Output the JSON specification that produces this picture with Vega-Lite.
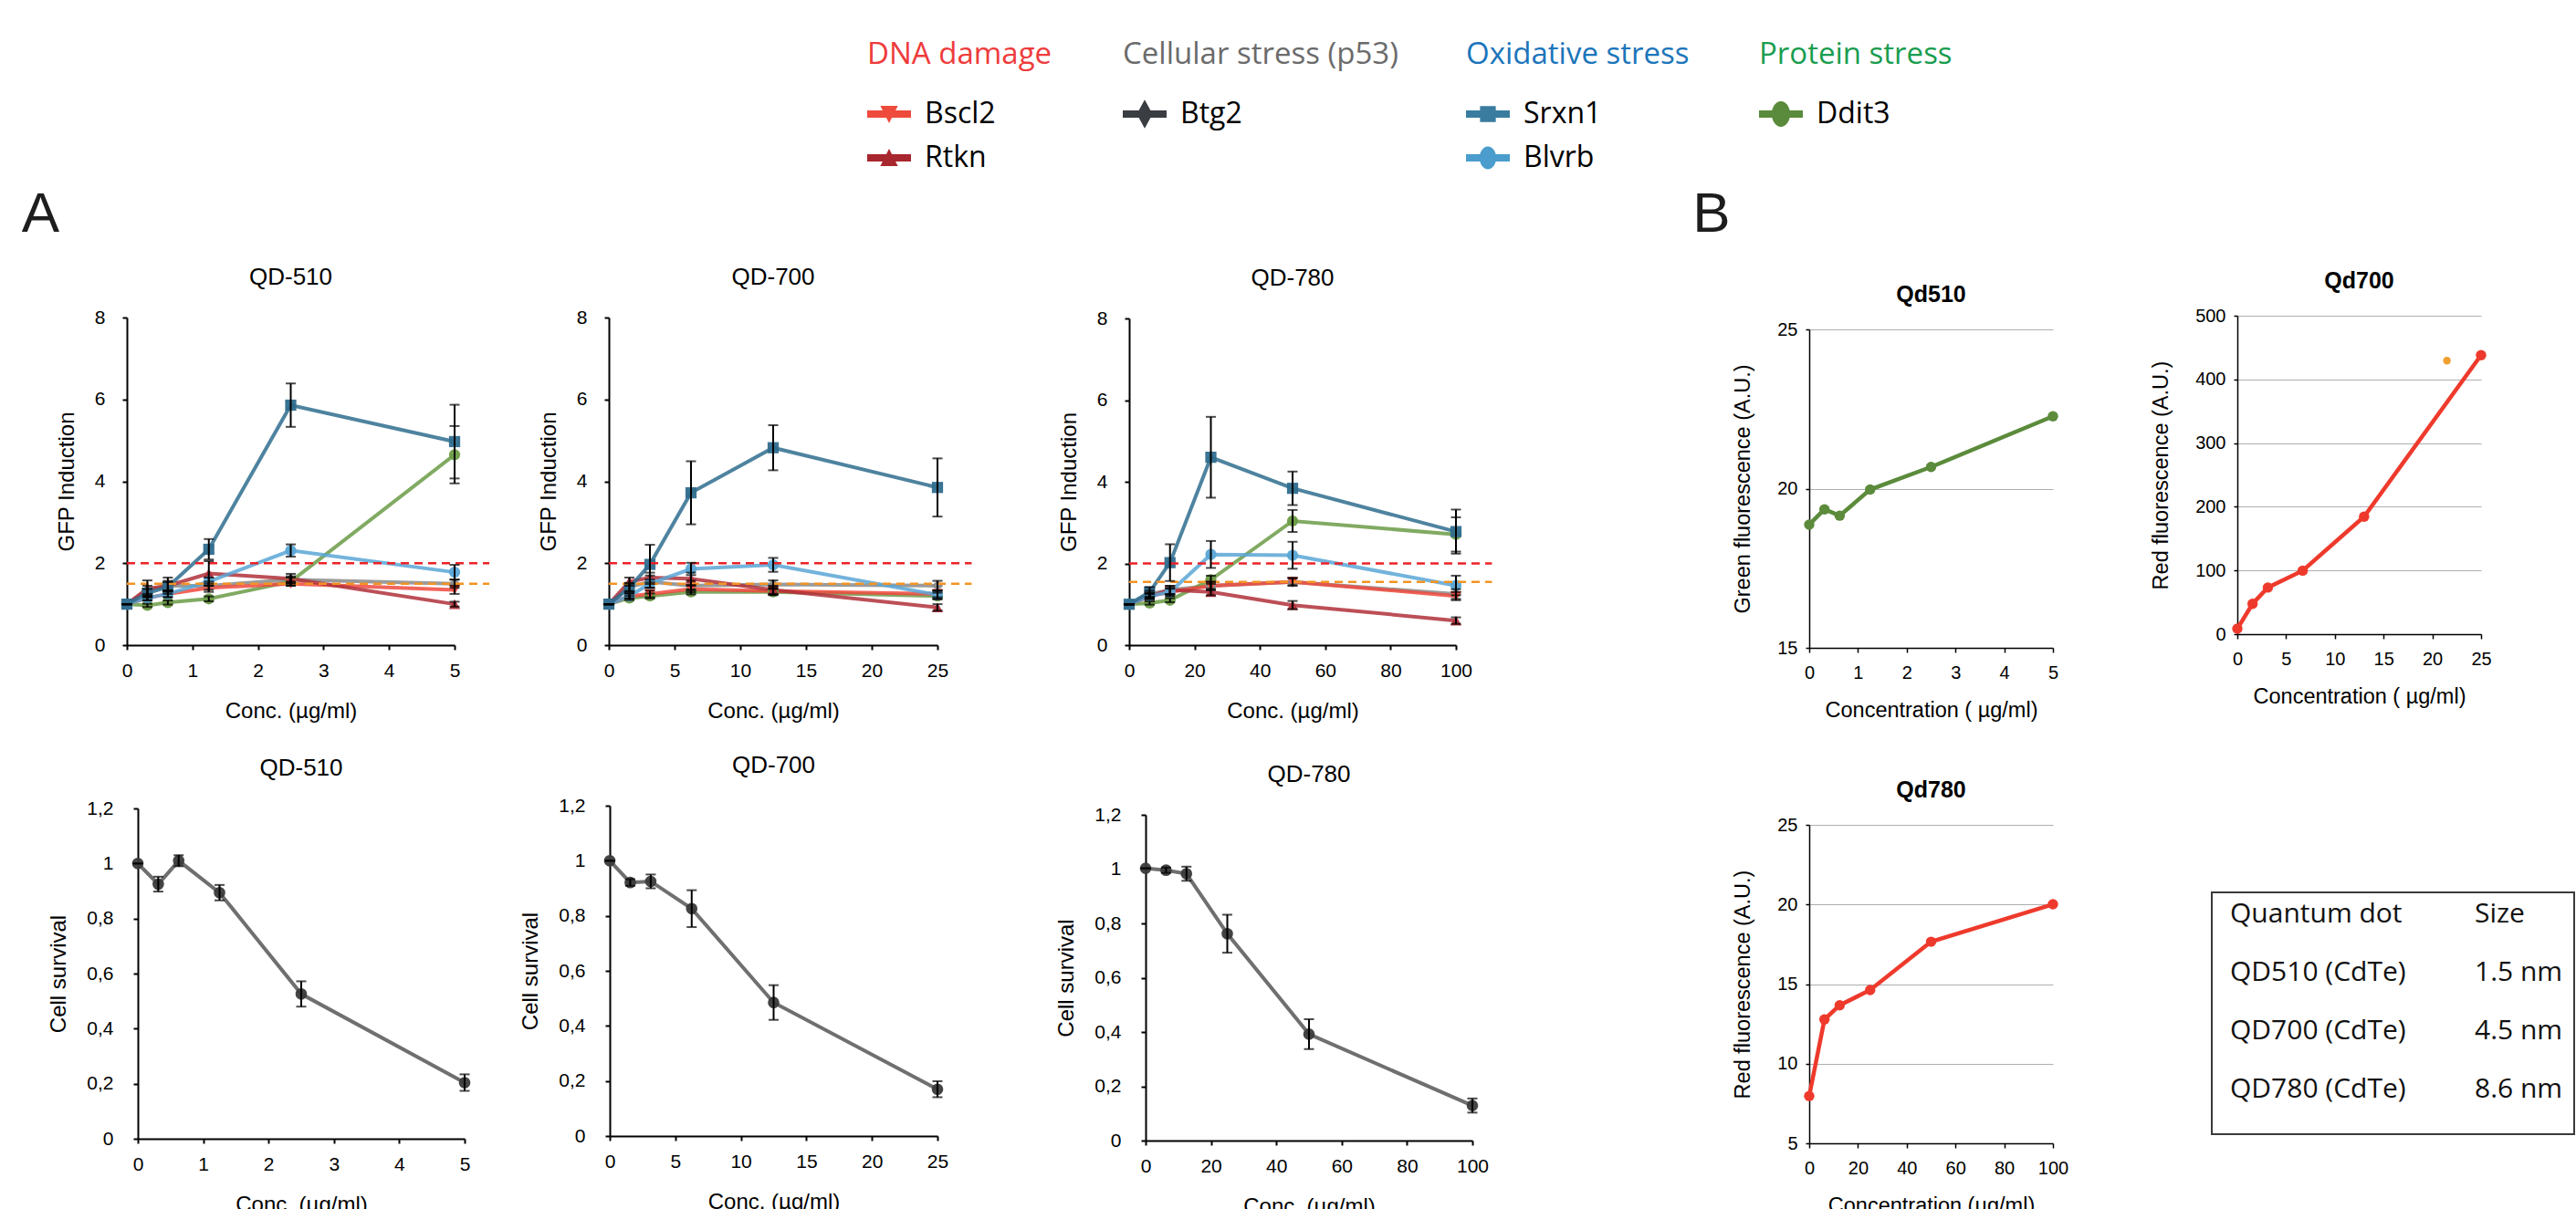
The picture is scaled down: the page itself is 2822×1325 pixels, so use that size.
{
"$schema": "https://vega.github.io/schema/vega-lite/v6.json",
"padding": 0,
"background": "white",
"spacing": 0,
"bounds": "flush",
"config": {
 "view": {"stroke": null},
 "concat": {"spacing": 0},
 "font": "Liberation Sans",
 "title": {"font": "Liberation Sans", "fontSize": 26, "fontWeight": "normal", "color": "black", "baseline": "bottom", "offset": 20, "frame": "group", "anchor": "middle"},
 "axis": {"domainColor": "black", "domainWidth": 2, "tickColor": "black", "tickWidth": 2, "tickSize": 5, "labelColor": "black", "labelFont": "Liberation Sans", "labelFontSize": 21, "titleColor": "black", "titleFont": "Liberation Sans", "titleFontSize": 24, "titleFontWeight": "normal", "grid": false, "format": "d"},
 "axisX": {"labelPadding": 12, "titlePadding": 22, "labelFlush": false},
 "axisY": {"labelPadding": 19, "titlePadding": 18},
 "legend": {"orient": "none", "padding": 0, "titleFont": "Open Sans", "titleFontSize": 33, "titleFontWeight": "normal", "titleLimit": 1000, "titlePadding": 24, "labelFont": "Open Sans", "labelFontSize": 32, "labelColor": "black", "labelOffset": 15, "labelLimit": 500, "symbolSize": 2304, "symbolStrokeWidth": 0, "symbolOpacity": 1, "rowPadding": 8, "direction": "vertical"}
},
"datasets": {
 "gfp": [
  {"q":"510","g":"Btg2","c":0,"v":1.0,"e":0},{"q":"510","g":"Btg2","c":0.3125,"v":1.35,"e":0.1},{"q":"510","g":"Btg2","c":0.625,"v":1.45,"e":0.12},{"q":"510","g":"Btg2","c":1.25,"v":1.45,"e":0.1},{"q":"510","g":"Btg2","c":2.5,"v":1.6,"e":0.08},{"q":"510","g":"Btg2","c":5,"v":1.5,"e":0.1},
  {"q":"510","g":"Ddit3","c":0,"v":1.0,"e":0},{"q":"510","g":"Ddit3","c":0.3125,"v":0.97,"e":0.04},{"q":"510","g":"Ddit3","c":0.625,"v":1.04,"e":0.05},{"q":"510","g":"Ddit3","c":1.25,"v":1.13,"e":0.06},{"q":"510","g":"Ddit3","c":2.5,"v":1.55,"e":0.1},{"q":"510","g":"Ddit3","c":5,"v":4.65,"e":0.7},
  {"q":"510","g":"Bscl2","c":0,"v":1.0,"e":0},{"q":"510","g":"Bscl2","c":0.3125,"v":1.15,"e":0.06},{"q":"510","g":"Bscl2","c":0.625,"v":1.25,"e":0.08},{"q":"510","g":"Bscl2","c":1.25,"v":1.4,"e":0.1},{"q":"510","g":"Bscl2","c":2.5,"v":1.5,"e":0.05},{"q":"510","g":"Bscl2","c":5,"v":1.35,"e":0.1},
  {"q":"510","g":"Rtkn","c":0,"v":1.0,"e":0},{"q":"510","g":"Rtkn","c":0.3125,"v":1.38,"e":0.2},{"q":"510","g":"Rtkn","c":0.625,"v":1.45,"e":0.2},{"q":"510","g":"Rtkn","c":1.25,"v":1.75,"e":0.3},{"q":"510","g":"Rtkn","c":2.5,"v":1.62,"e":0.12},{"q":"510","g":"Rtkn","c":5,"v":1.0,"e":0.06},
  {"q":"510","g":"Blvrb","c":0,"v":1.0,"e":0},{"q":"510","g":"Blvrb","c":0.3125,"v":1.15,"e":0.05},{"q":"510","g":"Blvrb","c":0.625,"v":1.25,"e":0.08},{"q":"510","g":"Blvrb","c":1.25,"v":1.55,"e":0.1},{"q":"510","g":"Blvrb","c":2.5,"v":2.31,"e":0.15},{"q":"510","g":"Blvrb","c":5,"v":1.78,"e":0.18},
  {"q":"510","g":"Srxn1","c":0,"v":1.0,"e":0},{"q":"510","g":"Srxn1","c":0.3125,"v":1.27,"e":0.1},{"q":"510","g":"Srxn1","c":0.625,"v":1.42,"e":0.12},{"q":"510","g":"Srxn1","c":1.25,"v":2.34,"e":0.25},{"q":"510","g":"Srxn1","c":2.5,"v":5.86,"e":0.53},{"q":"510","g":"Srxn1","c":5,"v":4.97,"e":0.9},
  {"q":"700","g":"Btg2","c":0,"v":1.0,"e":0},{"q":"700","g":"Btg2","c":1.5625,"v":1.42,"e":0.1},{"q":"700","g":"Btg2","c":3.125,"v":1.55,"e":0.15},{"q":"700","g":"Btg2","c":6.25,"v":1.45,"e":0.12},{"q":"700","g":"Btg2","c":12.5,"v":1.48,"e":0.1},{"q":"700","g":"Btg2","c":25,"v":1.45,"e":0.12},
  {"q":"700","g":"Ddit3","c":0,"v":1.0,"e":0},{"q":"700","g":"Ddit3","c":1.5625,"v":1.15,"e":0.05},{"q":"700","g":"Ddit3","c":3.125,"v":1.2,"e":0.06},{"q":"700","g":"Ddit3","c":6.25,"v":1.3,"e":0.06},{"q":"700","g":"Ddit3","c":12.5,"v":1.3,"e":0.07},{"q":"700","g":"Ddit3","c":25,"v":1.2,"e":0.08},
  {"q":"700","g":"Bscl2","c":0,"v":1.0,"e":0},{"q":"700","g":"Bscl2","c":1.5625,"v":1.2,"e":0.06},{"q":"700","g":"Bscl2","c":3.125,"v":1.25,"e":0.08},{"q":"700","g":"Bscl2","c":6.25,"v":1.37,"e":0.08},{"q":"700","g":"Bscl2","c":12.5,"v":1.32,"e":0.1},{"q":"700","g":"Bscl2","c":25,"v":1.25,"e":0.08},
  {"q":"700","g":"Rtkn","c":0,"v":1.0,"e":0},{"q":"700","g":"Rtkn","c":1.5625,"v":1.55,"e":0.1},{"q":"700","g":"Rtkn","c":3.125,"v":1.65,"e":0.12},{"q":"700","g":"Rtkn","c":6.25,"v":1.62,"e":0.15},{"q":"700","g":"Rtkn","c":12.5,"v":1.35,"e":0.1},{"q":"700","g":"Rtkn","c":25,"v":0.92,"e":0.08},
  {"q":"700","g":"Blvrb","c":0,"v":1.0,"e":0},{"q":"700","g":"Blvrb","c":1.5625,"v":1.2,"e":0.06},{"q":"700","g":"Blvrb","c":3.125,"v":1.5,"e":0.1},{"q":"700","g":"Blvrb","c":6.25,"v":1.86,"e":0.15},{"q":"700","g":"Blvrb","c":12.5,"v":1.96,"e":0.17},{"q":"700","g":"Blvrb","c":25,"v":1.23,"e":0.1},
  {"q":"700","g":"Srxn1","c":0,"v":1.0,"e":0},{"q":"700","g":"Srxn1","c":1.5625,"v":1.4,"e":0.1},{"q":"700","g":"Srxn1","c":3.125,"v":1.97,"e":0.48},{"q":"700","g":"Srxn1","c":6.25,"v":3.72,"e":0.77},{"q":"700","g":"Srxn1","c":12.5,"v":4.82,"e":0.55},{"q":"700","g":"Srxn1","c":25,"v":3.85,"e":0.71},
  {"q":"780","g":"Btg2","c":0,"v":1.0,"e":0},{"q":"780","g":"Btg2","c":6.25,"v":1.25,"e":0.08},{"q":"780","g":"Btg2","c":12.5,"v":1.35,"e":0.1},{"q":"780","g":"Btg2","c":25,"v":1.45,"e":0.1},{"q":"780","g":"Btg2","c":50,"v":1.55,"e":0.1},{"q":"780","g":"Btg2","c":100,"v":1.25,"e":0.12},
  {"q":"780","g":"Ddit3","c":0,"v":1.0,"e":0},{"q":"780","g":"Ddit3","c":6.25,"v":1.03,"e":0.04},{"q":"780","g":"Ddit3","c":12.5,"v":1.1,"e":0.05},{"q":"780","g":"Ddit3","c":25,"v":1.6,"e":0.1},{"q":"780","g":"Ddit3","c":50,"v":3.04,"e":0.27},{"q":"780","g":"Ddit3","c":100,"v":2.71,"e":0.42},
  {"q":"780","g":"Bscl2","c":0,"v":1.0,"e":0},{"q":"780","g":"Bscl2","c":6.25,"v":1.2,"e":0.06},{"q":"780","g":"Bscl2","c":12.5,"v":1.3,"e":0.08},{"q":"780","g":"Bscl2","c":25,"v":1.45,"e":0.1},{"q":"780","g":"Bscl2","c":50,"v":1.55,"e":0.08},{"q":"780","g":"Bscl2","c":100,"v":1.2,"e":0.1},
  {"q":"780","g":"Rtkn","c":0,"v":1.0,"e":0},{"q":"780","g":"Rtkn","c":6.25,"v":1.2,"e":0.06},{"q":"780","g":"Rtkn","c":12.5,"v":1.35,"e":0.1},{"q":"780","g":"Rtkn","c":25,"v":1.3,"e":0.08},{"q":"780","g":"Rtkn","c":50,"v":0.98,"e":0.1},{"q":"780","g":"Rtkn","c":100,"v":0.6,"e":0.08},
  {"q":"780","g":"Blvrb","c":0,"v":1.0,"e":0},{"q":"780","g":"Blvrb","c":6.25,"v":1.2,"e":0.08},{"q":"780","g":"Blvrb","c":12.5,"v":1.3,"e":0.1},{"q":"780","g":"Blvrb","c":25,"v":2.22,"e":0.33},{"q":"780","g":"Blvrb","c":50,"v":2.2,"e":0.33},{"q":"780","g":"Blvrb","c":100,"v":1.46,"e":0.24},
  {"q":"780","g":"Srxn1","c":0,"v":1.0,"e":0},{"q":"780","g":"Srxn1","c":6.25,"v":1.3,"e":0.12},{"q":"780","g":"Srxn1","c":12.5,"v":2.02,"e":0.45},{"q":"780","g":"Srxn1","c":25,"v":4.6,"e":0.99},{"q":"780","g":"Srxn1","c":50,"v":3.84,"e":0.41},{"q":"780","g":"Srxn1","c":100,"v":2.78,"e":0.54}
 ],
 "surv": [
  {"q":"510","c":0,"v":1.0,"e":0},{"q":"510","c":0.3125,"v":0.925,"e":0.027},{"q":"510","c":0.625,"v":1.01,"e":0.02},{"q":"510","c":1.25,"v":0.894,"e":0.028},{"q":"510","c":2.5,"v":0.526,"e":0.046},{"q":"510","c":5,"v":0.204,"e":0.03},
  {"q":"700","c":0,"v":1.0,"e":0},{"q":"700","c":1.5625,"v":0.921,"e":0.012},{"q":"700","c":3.125,"v":0.925,"e":0.025},{"q":"700","c":6.25,"v":0.826,"e":0.067},{"q":"700","c":12.5,"v":0.485,"e":0.063},{"q":"700","c":25,"v":0.17,"e":0.029},
  {"q":"780","c":0,"v":1.003,"e":0},{"q":"780","c":6.25,"v":0.996,"e":0.01},{"q":"780","c":12.5,"v":0.983,"e":0.026},{"q":"780","c":25,"v":0.762,"e":0.07},{"q":"780","c":50,"v":0.392,"e":0.055},{"q":"780","c":100,"v":0.129,"e":0.026}
 ],
 "fl": [
  {"q":"510","s":"m","c":0,"v":18.87},{"q":"510","s":"m","c":0.3125,"v":19.35},{"q":"510","s":"m","c":0.625,"v":19.15},{"q":"510","s":"m","c":1.25,"v":19.97},{"q":"510","s":"m","c":2.5,"v":20.68},{"q":"510","s":"m","c":5,"v":22.27},
  {"q":"700","s":"m","c":0,"v":8.5},{"q":"700","s":"m","c":1.56,"v":47.7},{"q":"700","s":"m","c":3.13,"v":73.2},{"q":"700","s":"m","c":6.7,"v":99.7},{"q":"700","s":"m","c":13,"v":184.5},{"q":"700","s":"m","c":25,"v":438},
  {"q":"700","s":"x","c":21.5,"v":429.5},
  {"q":"780","s":"m","c":0,"v":7.97},{"q":"780","s":"m","c":6.25,"v":12.78},{"q":"780","s":"m","c":12.5,"v":13.67},{"q":"780","s":"m","c":25,"v":14.63},{"q":"780","s":"m","c":50,"v":17.66},{"q":"780","s":"m","c":100,"v":20.01}
 ],
 "legend": [
  {"grp":"DNA damage","gene":"Bscl2"},{"grp":"DNA damage","gene":"Rtkn"},
  {"grp":"Cellular stress (p53)","gene":"Btg2"},
  {"grp":"Oxidative stress","gene":"Srxn1"},{"grp":"Oxidative stress","gene":"Blvrb"},
  {"grp":"Protein stress","gene":"Ddit3"}
 ],
 "table": [
  {"row":0,"col":"a","t":"Quantum dot"},{"row":0,"col":"b","t":"Size"},
  {"row":1,"col":"a","t":"QD510 (CdTe)"},{"row":1,"col":"b","t":"1.5 nm"},
  {"row":2,"col":"a","t":"QD700 (CdTe)"},{"row":2,"col":"b","t":"4.5 nm"},
  {"row":3,"col":"a","t":"QD780 (CdTe)"},{"row":3,"col":"b","t":"8.6 nm"}
 ]
},
"hconcat": [
 {"hconcat":[{"width":950,"height":1,"data":{"values":[]},"mark":"point"},{"vconcat":[{"width":1,"height":44,"data":{"values":[]},"mark":"point"},
  {"width": 1, "height": 1, "data": {"name": "legend"},
   "layer": [
    {"transform": [{"filter": "datum.grp === 'DNA damage'"}], "mark": {"type": "point", "filled": true, "opacity": 0},
     "encoding": {"color": {"field": "gene", "type": "nominal", "scale": {"domain": ["Bscl2","Rtkn"], "range": ["#ef4b3c","#a8262e"]}, "legend": {"title": "DNA damage", "titleColor": "#ee3b3b", "legendX": 0, "legendY": 0}},
       "shape": {"field": "gene", "type": "nominal", "scale": {"domain": ["Bscl2","Rtkn"], "range": ["M-1,-0.17L1,-0.17L1,0.17L-1,0.17Z M-0.4,-0.38L0.4,-0.38L0,0.42Z", "M-1,-0.17L1,-0.17L1,0.17L-1,0.17Z M0,-0.42L0.4,0.38L-0.4,0.38Z"]}}}},
    {"transform": [{"filter": "datum.grp === 'Cellular stress (p53)'"}], "mark": {"type": "point", "filled": true, "opacity": 0},
     "encoding": {"color": {"field": "gene", "type": "nominal", "scale": {"domain": ["Btg2"], "range": ["#3a3d41"]}, "legend": {"title": "Cellular stress (p53)", "titleColor": "#6b6b6b", "legendX": 280, "legendY": 0}},
       "shape": {"field": "gene", "type": "nominal", "scale": {"domain": ["Btg2"], "range": ["M-1,-0.17L1,-0.17L1,0.17L-1,0.17Z M0,-0.66L0.36,0L0,0.66L-0.36,0Z"]}}}},
    {"transform": [{"filter": "datum.grp === 'Oxidative stress'"}], "mark": {"type": "point", "filled": true, "opacity": 0},
     "encoding": {"color": {"field": "gene", "type": "nominal", "scale": {"domain": ["Srxn1","Blvrb"], "range": ["#3a7ca0","#4a9dcc"]}, "legend": {"title": "Oxidative stress", "titleColor": "#1b75bb", "legendX": 656, "legendY": 0}},
       "shape": {"field": "gene", "type": "nominal", "scale": {"domain": ["Srxn1","Blvrb"], "range": ["M-1,-0.17L1,-0.17L1,0.17L-1,0.17Z M-0.36,-0.36L0.36,-0.36L0.36,0.36L-0.36,0.36Z", "M-1,-0.17L1,-0.17L1,0.17L-1,0.17Z M-0.38,0A0.38,0.52 0 1,1 0.38,0A0.38,0.52 0 1,1 -0.38,0Z"]}}}},
    {"transform": [{"filter": "datum.grp === 'Protein stress'"}], "mark": {"type": "point", "filled": true, "opacity": 0},
     "encoding": {"color": {"field": "gene", "type": "nominal", "scale": {"domain": ["Ddit3"], "range": ["#5a8a3b"]}, "legend": {"title": "Protein stress", "titleColor": "#199d4f", "legendX": 977, "legendY": 0}},
       "shape": {"field": "gene", "type": "nominal", "scale": {"domain": ["Ddit3"], "range": ["M-1,-0.17L1,-0.17L1,0.17L-1,0.17Z M-0.42,0A0.42,0.58 0 1,1 0.42,0A0.42,0.58 0 1,1 -0.42,0Z"]}}}}
   ],
   "resolve": {"scale": {"color": "independent", "shape": "independent"}, "legend": {"color": "independent", "shape": "independent"}}}
 ],"spacing":0,"bounds":"flush"}],"spacing":0,"bounds":"flush"},

 {"hconcat":[{"width":22,"height":1,"data":{"values":[]},"mark":"point"},{"vconcat":[{"width":1,"height":212,"data":{"values":[]},"mark":"point"},
  {"width": 45, "height": 46, "data": {"values": [{"t": "A"}]}, "mark": {"type": "text", "font": "Liberation Sans", "fontSize": 62, "color": "#1d1d1d"}, "encoding": {"text": {"field": "t"}}}
 ],"spacing":0,"bounds":"flush"}],"spacing":0,"bounds":"flush"},

 {"hconcat":[{"width":1855,"height":1,"data":{"values":[]},"mark":"point"},{"vconcat":[{"width":1,"height":212,"data":{"values":[]},"mark":"point"},
  {"width": 40, "height": 46, "data": {"values": [{"t": "B"}]}, "mark": {"type": "text", "font": "Liberation Sans", "fontSize": 62, "color": "#1d1d1d"}, "encoding": {"text": {"field": "t"}}}
 ],"spacing":0,"bounds":"flush"}],"spacing":0,"bounds":"flush"},

 {"hconcat":[{"width":139,"height":1,"data":{"values":[]},"mark":"point"},{"vconcat":[{"width":1,"height":348,"data":{"values":[]},"mark":"point"},
  {"width": 359, "height": 359, "title": "QD-510",
   "layer": [
    {"data": {"name": "gfp"}, "transform": [{"filter": "datum.q === '510'"}], "mark": {"type": "line", "strokeWidth": 4, "opacity": 0.85},
     "encoding": {"x": {"field": "c", "type": "quantitative", "title": "Conc. (µg/ml)", "scale": {"domain": [0, 5], "nice": false}, "axis": {"values": [0,1,2,3,4,5], "format": "d"}},
       "y": {"field": "v", "type": "quantitative", "title": "GFP Induction", "scale": {"domain": [0, 8], "nice": false}, "axis": {"values": [0,2,4,6,8], "format": "d"}},
       "color": {"field": "g", "type": "nominal", "scale": {"domain": ["Btg2","Ddit3","Bscl2","Rtkn","Blvrb","Srxn1"], "range": ["#8a8a8a","#6b9b46","#ee4a3e","#b0303a","#5aa6d6","#2f6d8e"]}, "legend": null}}},
    {"data": {"name": "gfp"}, "transform": [{"filter": "datum.q === '510'"}], "mark": {"type": "point", "filled": true, "size": 150, "opacity": 0.95},
     "encoding": {"x": {"field": "c", "type": "quantitative", "title": "Conc. (µg/ml)", "scale": {"domain": [0, 5], "nice": false}},
       "y": {"field": "v", "type": "quantitative", "title": "GFP Induction", "scale": {"domain": [0, 8], "nice": false}},
       "color": {"field": "g", "type": "nominal", "scale": {"domain": ["Btg2","Ddit3","Bscl2","Rtkn","Blvrb","Srxn1"], "range": ["#8a8a8a","#6b9b46","#ee4a3e","#b0303a","#5aa6d6","#2f6d8e"]}, "legend": null},
       "shape": {"field": "g", "type": "nominal", "scale": {"domain": ["Btg2","Ddit3","Bscl2","Rtkn","Blvrb","Srxn1"], "range": ["diamond","circle","triangle-down","triangle-up","circle","square"]}, "legend": null}}},
    {"data": {"values": [{}]}, "mark": {"type": "rule", "color": "#ec2227", "strokeWidth": 2.5, "strokeDash": [9, 6]},
     "encoding": {"x": {"datum": 0, "type": "quantitative", "title": "Conc. (µg/ml)", "scale": {"domain": [0, 5], "nice": false}}, "x2": {"datum": 5.53}, "y": {"datum": 2, "type": "quantitative", "title": "GFP Induction", "scale": {"domain": [0, 8], "nice": false}}}},
    {"data": {"values": [{}]}, "mark": {"type": "rule", "color": "#f39323", "strokeWidth": 2.5, "strokeDash": [9, 6]},
     "encoding": {"x": {"datum": 0, "type": "quantitative", "title": "Conc. (µg/ml)", "scale": {"domain": [0, 5], "nice": false}}, "x2": {"datum": 5.53}, "y": {"datum": 1.5, "type": "quantitative", "title": "GFP Induction", "scale": {"domain": [0, 8], "nice": false}}}},
    {"data": {"name": "gfp"}, "transform": [{"filter": "datum.q === '510'"}], "mark": {"type": "errorbar", "color": "black", "thickness": 2, "ticks": {"size": 11, "color": "black"}},
     "encoding": {"x": {"field": "c", "type": "quantitative", "title": "Conc. (µg/ml)", "scale": {"domain": [0, 5], "nice": false}},
       "y": {"field": "v", "type": "quantitative", "title": "GFP Induction", "scale": {"domain": [0, 8], "nice": false}}, "yError": {"field": "e"}}}
   ]}
 ],"spacing":0,"bounds":"flush"}],"spacing":0,"bounds":"flush"},

 {"hconcat":[{"width":667,"height":1,"data":{"values":[]},"mark":"point"},{"vconcat":[{"width":1,"height":348,"data":{"values":[]},"mark":"point"},
  {"width": 360, "height": 359, "title": "QD-700",
   "layer": [
    {"data": {"name": "gfp"}, "transform": [{"filter": "datum.q === '700'"}], "mark": {"type": "line", "strokeWidth": 4, "opacity": 0.85},
     "encoding": {"x": {"field": "c", "type": "quantitative", "title": "Conc. (µg/ml)", "scale": {"domain": [0, 25], "nice": false}, "axis": {"values": [0,5,10,15,20,25], "format": "d"}},
       "y": {"field": "v", "type": "quantitative", "title": "GFP Induction", "scale": {"domain": [0, 8], "nice": false}, "axis": {"values": [0,2,4,6,8], "format": "d"}},
       "color": {"field": "g", "type": "nominal", "scale": {"domain": ["Btg2","Ddit3","Bscl2","Rtkn","Blvrb","Srxn1"], "range": ["#8a8a8a","#6b9b46","#ee4a3e","#b0303a","#5aa6d6","#2f6d8e"]}, "legend": null}}},
    {"data": {"name": "gfp"}, "transform": [{"filter": "datum.q === '700'"}], "mark": {"type": "point", "filled": true, "size": 150, "opacity": 0.95},
     "encoding": {"x": {"field": "c", "type": "quantitative", "title": "Conc. (µg/ml)", "scale": {"domain": [0, 25], "nice": false}},
       "y": {"field": "v", "type": "quantitative", "title": "GFP Induction", "scale": {"domain": [0, 8], "nice": false}},
       "color": {"field": "g", "type": "nominal", "scale": {"domain": ["Btg2","Ddit3","Bscl2","Rtkn","Blvrb","Srxn1"], "range": ["#8a8a8a","#6b9b46","#ee4a3e","#b0303a","#5aa6d6","#2f6d8e"]}, "legend": null},
       "shape": {"field": "g", "type": "nominal", "scale": {"domain": ["Btg2","Ddit3","Bscl2","Rtkn","Blvrb","Srxn1"], "range": ["diamond","circle","triangle-down","triangle-up","circle","square"]}, "legend": null}}},
    {"data": {"values": [{}]}, "mark": {"type": "rule", "color": "#ec2227", "strokeWidth": 2.5, "strokeDash": [9, 6]},
     "encoding": {"x": {"datum": 0, "type": "quantitative", "title": "Conc. (µg/ml)", "scale": {"domain": [0, 25], "nice": false}}, "x2": {"datum": 27.6}, "y": {"datum": 2, "type": "quantitative", "title": "GFP Induction", "scale": {"domain": [0, 8], "nice": false}}}},
    {"data": {"values": [{}]}, "mark": {"type": "rule", "color": "#f39323", "strokeWidth": 2.5, "strokeDash": [9, 6]},
     "encoding": {"x": {"datum": 0, "type": "quantitative", "title": "Conc. (µg/ml)", "scale": {"domain": [0, 25], "nice": false}}, "x2": {"datum": 27.6}, "y": {"datum": 1.5, "type": "quantitative", "title": "GFP Induction", "scale": {"domain": [0, 8], "nice": false}}}},
    {"data": {"name": "gfp"}, "transform": [{"filter": "datum.q === '700'"}], "mark": {"type": "errorbar", "color": "black", "thickness": 2, "ticks": {"size": 11, "color": "black"}},
     "encoding": {"x": {"field": "c", "type": "quantitative", "title": "Conc. (µg/ml)", "scale": {"domain": [0, 25], "nice": false}},
       "y": {"field": "v", "type": "quantitative", "title": "GFP Induction", "scale": {"domain": [0, 8], "nice": false}}, "yError": {"field": "e"}}}
   ]}
 ],"spacing":0,"bounds":"flush"}],"spacing":0,"bounds":"flush"},

 {"hconcat":[{"width":1237,"height":1,"data":{"values":[]},"mark":"point"},{"vconcat":[{"width":1,"height":349,"data":{"values":[]},"mark":"point"},
  {"width": 358, "height": 358, "title": "QD-780",
   "layer": [
    {"data": {"name": "gfp"}, "transform": [{"filter": "datum.q === '780'"}], "mark": {"type": "line", "strokeWidth": 4, "opacity": 0.85},
     "encoding": {"x": {"field": "c", "type": "quantitative", "title": "Conc. (µg/ml)", "scale": {"domain": [0, 100], "nice": false}, "axis": {"values": [0,20,40,60,80,100], "format": "d"}},
       "y": {"field": "v", "type": "quantitative", "title": "GFP Induction", "scale": {"domain": [0, 8], "nice": false}, "axis": {"values": [0,2,4,6,8], "format": "d"}},
       "color": {"field": "g", "type": "nominal", "scale": {"domain": ["Btg2","Ddit3","Bscl2","Rtkn","Blvrb","Srxn1"], "range": ["#8a8a8a","#6b9b46","#ee4a3e","#b0303a","#5aa6d6","#2f6d8e"]}, "legend": null}}},
    {"data": {"name": "gfp"}, "transform": [{"filter": "datum.q === '780'"}], "mark": {"type": "point", "filled": true, "size": 150, "opacity": 0.95},
     "encoding": {"x": {"field": "c", "type": "quantitative", "title": "Conc. (µg/ml)", "scale": {"domain": [0, 100], "nice": false}},
       "y": {"field": "v", "type": "quantitative", "title": "GFP Induction", "scale": {"domain": [0, 8], "nice": false}},
       "color": {"field": "g", "type": "nominal", "scale": {"domain": ["Btg2","Ddit3","Bscl2","Rtkn","Blvrb","Srxn1"], "range": ["#8a8a8a","#6b9b46","#ee4a3e","#b0303a","#5aa6d6","#2f6d8e"]}, "legend": null},
       "shape": {"field": "g", "type": "nominal", "scale": {"domain": ["Btg2","Ddit3","Bscl2","Rtkn","Blvrb","Srxn1"], "range": ["diamond","circle","triangle-down","triangle-up","circle","square"]}, "legend": null}}},
    {"data": {"values": [{}]}, "mark": {"type": "rule", "color": "#ec2227", "strokeWidth": 2.5, "strokeDash": [9, 6]},
     "encoding": {"x": {"datum": 0, "type": "quantitative", "title": "Conc. (µg/ml)", "scale": {"domain": [0, 100], "nice": false}}, "x2": {"datum": 111}, "y": {"datum": 2, "type": "quantitative", "title": "GFP Induction", "scale": {"domain": [0, 8], "nice": false}}}},
    {"data": {"values": [{}]}, "mark": {"type": "rule", "color": "#f39323", "strokeWidth": 2.5, "strokeDash": [9, 6]},
     "encoding": {"x": {"datum": 0, "type": "quantitative", "title": "Conc. (µg/ml)", "scale": {"domain": [0, 100], "nice": false}}, "x2": {"datum": 111}, "y": {"datum": 1.55, "type": "quantitative", "title": "GFP Induction", "scale": {"domain": [0, 8], "nice": false}}}},
    {"data": {"name": "gfp"}, "transform": [{"filter": "datum.q === '780'"}], "mark": {"type": "errorbar", "color": "black", "thickness": 2, "ticks": {"size": 11, "color": "black"}},
     "encoding": {"x": {"field": "c", "type": "quantitative", "title": "Conc. (µg/ml)", "scale": {"domain": [0, 100], "nice": false}},
       "y": {"field": "v", "type": "quantitative", "title": "GFP Induction", "scale": {"domain": [0, 8], "nice": false}}, "yError": {"field": "e"}}}
   ]}
 ],"spacing":0,"bounds":"flush"}],"spacing":0,"bounds":"flush"},

 {"hconcat":[{"width":151,"height":1,"data":{"values":[]},"mark":"point"},{"vconcat":[{"width":1,"height":886,"data":{"values":[]},"mark":"point"},
  {"width": 358, "height": 362, "title": "QD-510",
   "layer": [
    {"data": {"name": "surv"}, "transform": [{"filter": "datum.q === '510'"}], "mark": {"type": "line", "color": "#6f6f6f", "strokeWidth": 4},
     "encoding": {"x": {"field": "c", "type": "quantitative", "title": "Conc. (µg/ml)", "scale": {"domain": [0, 5], "nice": false}, "axis": {"values": [0,1,2,3,4,5], "format": "d"}},
       "y": {"field": "v", "type": "quantitative", "title": "Cell survival", "scale": {"domain": [0, 1.2], "nice": false}, "axis": {"values": [0,0.2,0.4,0.6,0.8,1,1.2], "labelExpr": "replace(format(datum.value, '.1~f'), '.', ',')", "labelPadding": 22}}}},
    {"data": {"name": "surv"}, "transform": [{"filter": "datum.q === '510'"}], "mark": {"type": "point", "filled": true, "color": "#3b3b3b", "size": 160, "opacity": 0.95},
     "encoding": {"x": {"field": "c", "type": "quantitative", "title": "Conc. (µg/ml)", "scale": {"domain": [0, 5], "nice": false}},
       "y": {"field": "v", "type": "quantitative", "title": "Cell survival", "scale": {"domain": [0, 1.2], "nice": false}}}},
    {"data": {"name": "surv"}, "transform": [{"filter": "datum.q === '510'"}], "mark": {"type": "errorbar", "color": "black", "thickness": 2, "ticks": {"size": 11, "color": "black"}},
     "encoding": {"x": {"field": "c", "type": "quantitative", "title": "Conc. (µg/ml)", "scale": {"domain": [0, 5], "nice": false}},
       "y": {"field": "v", "type": "quantitative", "title": "Cell survival", "scale": {"domain": [0, 1.2], "nice": false}}, "yError": {"field": "e"}}}
   ]}
 ],"spacing":0,"bounds":"flush"}],"spacing":0,"bounds":"flush"},

 {"hconcat":[{"width":668,"height":1,"data":{"values":[]},"mark":"point"},{"vconcat":[{"width":1,"height":883,"data":{"values":[]},"mark":"point"},
  {"width": 359, "height": 362, "title": "QD-700",
   "layer": [
    {"data": {"name": "surv"}, "transform": [{"filter": "datum.q === '700'"}], "mark": {"type": "line", "color": "#6f6f6f", "strokeWidth": 4},
     "encoding": {"x": {"field": "c", "type": "quantitative", "title": "Conc. (µg/ml)", "scale": {"domain": [0, 25], "nice": false}, "axis": {"values": [0,5,10,15,20,25], "format": "d"}},
       "y": {"field": "v", "type": "quantitative", "title": "Cell survival", "scale": {"domain": [0, 1.2], "nice": false}, "axis": {"values": [0,0.2,0.4,0.6,0.8,1,1.2], "labelExpr": "replace(format(datum.value, '.1~f'), '.', ',')", "labelPadding": 22}}}},
    {"data": {"name": "surv"}, "transform": [{"filter": "datum.q === '700'"}], "mark": {"type": "point", "filled": true, "color": "#3b3b3b", "size": 160, "opacity": 0.95},
     "encoding": {"x": {"field": "c", "type": "quantitative", "title": "Conc. (µg/ml)", "scale": {"domain": [0, 25], "nice": false}},
       "y": {"field": "v", "type": "quantitative", "title": "Cell survival", "scale": {"domain": [0, 1.2], "nice": false}}}},
    {"data": {"name": "surv"}, "transform": [{"filter": "datum.q === '700'"}], "mark": {"type": "errorbar", "color": "black", "thickness": 2, "ticks": {"size": 11, "color": "black"}},
     "encoding": {"x": {"field": "c", "type": "quantitative", "title": "Conc. (µg/ml)", "scale": {"domain": [0, 25], "nice": false}},
       "y": {"field": "v", "type": "quantitative", "title": "Cell survival", "scale": {"domain": [0, 1.2], "nice": false}}, "yError": {"field": "e"}}}
   ]}
 ],"spacing":0,"bounds":"flush"}],"spacing":0,"bounds":"flush"},

 {"hconcat":[{"width":1255,"height":1,"data":{"values":[]},"mark":"point"},{"vconcat":[{"width":1,"height":893,"data":{"values":[]},"mark":"point"},
  {"width": 358, "height": 357, "title": "QD-780",
   "layer": [
    {"data": {"name": "surv"}, "transform": [{"filter": "datum.q === '780'"}], "mark": {"type": "line", "color": "#6f6f6f", "strokeWidth": 4},
     "encoding": {"x": {"field": "c", "type": "quantitative", "title": "Conc. (µg/ml)", "scale": {"domain": [0, 100], "nice": false}, "axis": {"values": [0,20,40,60,80,100], "format": "d"}},
       "y": {"field": "v", "type": "quantitative", "title": "Cell survival", "scale": {"domain": [0, 1.2], "nice": false}, "axis": {"values": [0,0.2,0.4,0.6,0.8,1,1.2], "labelExpr": "replace(format(datum.value, '.1~f'), '.', ',')", "labelPadding": 22}}}},
    {"data": {"name": "surv"}, "transform": [{"filter": "datum.q === '780'"}], "mark": {"type": "point", "filled": true, "color": "#3b3b3b", "size": 160, "opacity": 0.95},
     "encoding": {"x": {"field": "c", "type": "quantitative", "title": "Conc. (µg/ml)", "scale": {"domain": [0, 100], "nice": false}},
       "y": {"field": "v", "type": "quantitative", "title": "Cell survival", "scale": {"domain": [0, 1.2], "nice": false}}}},
    {"data": {"name": "surv"}, "transform": [{"filter": "datum.q === '780'"}], "mark": {"type": "errorbar", "color": "black", "thickness": 2, "ticks": {"size": 11, "color": "black"}},
     "encoding": {"x": {"field": "c", "type": "quantitative", "title": "Conc. (µg/ml)", "scale": {"domain": [0, 100], "nice": false}},
       "y": {"field": "v", "type": "quantitative", "title": "Cell survival", "scale": {"domain": [0, 1.2], "nice": false}}, "yError": {"field": "e"}}}
   ]}
 ],"spacing":0,"bounds":"flush"}],"spacing":0,"bounds":"flush"},

 {"hconcat":[{"width":1982,"height":1,"data":{"values":[]},"mark":"point"},{"vconcat":[{"width":1,"height":361,"data":{"values":[]},"mark":"point"},
  {"width": 267, "height": 349, "title": {"text": "Qd510", "fontWeight": "bold", "fontSize": 25, "offset": 15},
   "layer": [
    {"data": {"name": "fl"}, "transform": [{"filter": "datum.q === '510' && datum.s === 'm'"}], "mark": {"type": "line", "color": "#5b8b3b", "strokeWidth": 4.5},
     "encoding": {"x": {"field": "c", "type": "quantitative", "title": "Concentration ( µg/ml)", "scale": {"domain": [0, 5], "nice": false}, "axis": {"values": [0,1,2,3,4,5], "format": "d", "labelFontSize": 20, "titleFontSize": 23.5, "titlePadding": 19, "domainWidth": 1.5, "tickWidth": 1.5}},
       "y": {"field": "v", "type": "quantitative", "title": "Green fluorescence (A.U.)", "scale": {"domain": [15, 25], "nice": false}, "axis": {"values": [15,20,25], "format": "d", "grid": true, "gridColor": "#aeaeae", "gridWidth": 1.2, "labelFontSize": 20, "titleFontSize": 23.5, "labelPadding": 9, "titlePadding": 25, "tickSize": 4, "domainWidth": 1.5, "tickWidth": 1.5}}}},
    {"data": {"name": "fl"}, "transform": [{"filter": "datum.q === '510' && datum.s === 'm'"}], "mark": {"type": "point", "filled": true, "color": "#5b8b3b", "size": 130, "opacity": 1},
     "encoding": {"x": {"field": "c", "type": "quantitative", "title": "Concentration ( µg/ml)", "scale": {"domain": [0, 5], "nice": false}},
       "y": {"field": "v", "type": "quantitative", "title": "Green fluorescence (A.U.)", "scale": {"domain": [15, 25], "nice": false}}}}
   ]}
 ],"spacing":0,"bounds":"flush"}],"spacing":0,"bounds":"flush"},

 {"hconcat":[{"width":2451,"height":1,"data":{"values":[]},"mark":"point"},{"vconcat":[{"width":1,"height":346,"data":{"values":[]},"mark":"point"},
  {"width": 267, "height": 349, "title": {"text": "Qd700", "fontWeight": "bold", "fontSize": 25, "offset": 15},
   "layer": [
    {"data": {"name": "fl"}, "transform": [{"filter": "datum.q === '700' && datum.s === 'm'"}], "mark": {"type": "line", "color": "#ee3a2c", "strokeWidth": 4.5},
     "encoding": {"x": {"field": "c", "type": "quantitative", "title": "Concentration ( µg/ml)", "scale": {"domain": [0, 25], "nice": false}, "axis": {"values": [0,5,10,15,20,25], "format": "d", "labelFontSize": 20, "titleFontSize": 23.5, "titlePadding": 19, "domainWidth": 1.5, "tickWidth": 1.5}},
       "y": {"field": "v", "type": "quantitative", "title": "Red fluorescence (A.U.)", "scale": {"domain": [0, 500], "nice": false}, "axis": {"values": [0,100,200,300,400,500], "format": "d", "grid": true, "gridColor": "#aeaeae", "gridWidth": 1.2, "labelFontSize": 20, "titleFontSize": 23.5, "labelPadding": 9, "titlePadding": 25, "tickSize": 4, "domainWidth": 1.5, "tickWidth": 1.5}}}},
    {"data": {"name": "fl"}, "transform": [{"filter": "datum.q === '700' && datum.s === 'm'"}], "mark": {"type": "point", "filled": true, "color": "#ee3a2c", "size": 130, "opacity": 1},
     "encoding": {"x": {"field": "c", "type": "quantitative", "title": "Concentration ( µg/ml)", "scale": {"domain": [0, 25], "nice": false}},
       "y": {"field": "v", "type": "quantitative", "title": "Red fluorescence (A.U.)", "scale": {"domain": [0, 500], "nice": false}}}},
    {"data": {"name": "fl"}, "transform": [{"filter": "datum.q === '700' && datum.s === 'x'"}], "mark": {"type": "point", "filled": true, "color": "#f0a030", "size": 70, "opacity": 1},
     "encoding": {"x": {"field": "c", "type": "quantitative", "title": "Concentration ( µg/ml)", "scale": {"domain": [0, 25], "nice": false}},
       "y": {"field": "v", "type": "quantitative", "title": "Red fluorescence (A.U.)", "scale": {"domain": [0, 500], "nice": false}}}}
   ]}
 ],"spacing":0,"bounds":"flush"}],"spacing":0,"bounds":"flush"},

 {"hconcat":[{"width":1982,"height":1,"data":{"values":[]},"mark":"point"},{"vconcat":[{"width":1,"height":904,"data":{"values":[]},"mark":"point"},
  {"width": 267, "height": 349, "title": {"text": "Qd780", "fontWeight": "bold", "fontSize": 25, "offset": 15},
   "layer": [
    {"data": {"name": "fl"}, "transform": [{"filter": "datum.q === '780' && datum.s === 'm'"}], "mark": {"type": "line", "color": "#ee3a2c", "strokeWidth": 4.5},
     "encoding": {"x": {"field": "c", "type": "quantitative", "title": "Concentration (µg/ml)", "scale": {"domain": [0, 100], "nice": false}, "axis": {"values": [0,20,40,60,80,100], "format": "d", "labelFontSize": 20, "titleFontSize": 23.5, "titlePadding": 19, "domainWidth": 1.5, "tickWidth": 1.5}},
       "y": {"field": "v", "type": "quantitative", "title": "Red fluorescence (A.U.)", "scale": {"domain": [5, 25], "nice": false}, "axis": {"values": [5,10,15,20,25], "format": "d", "grid": true, "gridColor": "#aeaeae", "gridWidth": 1.2, "labelFontSize": 20, "titleFontSize": 23.5, "labelPadding": 9, "titlePadding": 25, "tickSize": 4, "domainWidth": 1.5, "tickWidth": 1.5}}}},
    {"data": {"name": "fl"}, "transform": [{"filter": "datum.q === '780' && datum.s === 'm'"}], "mark": {"type": "point", "filled": true, "color": "#ee3a2c", "size": 130, "opacity": 1},
     "encoding": {"x": {"field": "c", "type": "quantitative", "title": "Concentration (µg/ml)", "scale": {"domain": [0, 100], "nice": false}},
       "y": {"field": "v", "type": "quantitative", "title": "Red fluorescence (A.U.)", "scale": {"domain": [5, 25], "nice": false}}}}
   ]}
 ],"spacing":0,"bounds":"flush"}],"spacing":0,"bounds":"flush"},

 {"hconcat":[{"width":2423,"height":1,"data":{"values":[]},"mark":"point"},{"vconcat":[{"width":1,"height":978,"data":{"values":[]},"mark":"point"},
  {"width": 397, "height": 265, "view": {"stroke": "#3a3a3a", "strokeWidth": 2}, "data": {"name": "table"},
   "mark": {"type": "text", "align": "left", "baseline": "middle", "font": "Open Sans", "fontSize": 30, "color": "#111111"},
   "encoding": {"x": {"field": "col", "type": "nominal", "scale": {"type": "point", "padding": 0.2407, "align": 0.155}, "axis": null},
     "y": {"field": "row", "type": "ordinal", "scale": {"type": "point", "padding": 0.57, "align": 0.33}, "axis": null},
     "text": {"field": "t"}}}
 ],"spacing":0,"bounds":"flush"}],"spacing":0,"bounds":"flush"}
]
}
